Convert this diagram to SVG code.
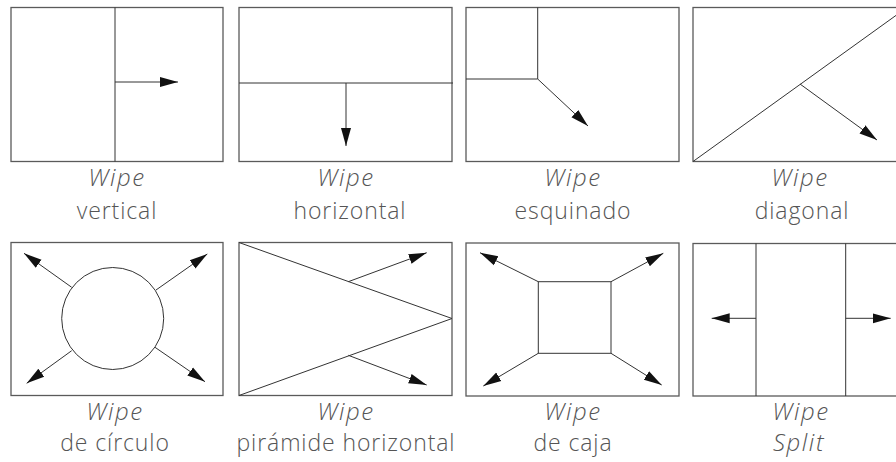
<svg xmlns="http://www.w3.org/2000/svg" width="896" height="462" viewBox="0 0 896 462">
<style>
.box{fill:none;stroke:#5a5a5a;stroke-width:1.3}
.ln{fill:none;stroke:#333;stroke-width:1}
.ar{fill:none;stroke:#333;stroke-width:1;marker-end:url(#ah)}
.t1{font-family:"Open Sans","Liberation Sans",sans-serif;font-weight:300;font-size:24px;font-style:italic;fill:#555;text-anchor:middle;letter-spacing:1.6px}
.t2{font-family:"Open Sans","Liberation Sans",sans-serif;font-weight:300;font-size:23px;fill:#555;text-anchor:middle;letter-spacing:0.9px}
</style>
<defs>
<marker id="ah" markerUnits="userSpaceOnUse" markerWidth="20" markerHeight="12" refX="18" refY="5" orient="auto" viewBox="0 0 20 10">
<path d="M0,0 L18,5 L0,10 Z" fill="#111"/>
</marker>
</defs>
<rect width="896" height="462" fill="#fff"/>
<g id="wipe-vertical">
<rect class="box" x="11" y="7.5" width="212" height="154"/>
<line class="ln" x1="115" y1="7.5" x2="115" y2="161.5"/>
<text class="t1" x="117" y="186">Wipe</text>
<text class="t2" x="117" y="219">vertical</text>
</g>
<g id="wipe-horizontal">
<rect class="box" x="239" y="7.5" width="213" height="154"/>
<line class="ln" x1="239" y1="83" x2="453" y2="83"/>
<text class="t1" x="346" y="186">Wipe</text>
<text class="t2" x="350" y="219">horizontal</text>
</g>
<g id="wipe-esquinado">
<rect class="box" x="466" y="7.5" width="213" height="154"/>
<polyline class="ln" points="537.7,7.5 537.7,79 466,79"/>
<text class="t1" x="573" y="186">Wipe</text>
<text class="t2" x="573" y="219">esquinado</text>
</g>
<g id="wipe-diagonal">
<rect class="box" x="693" y="7.5" width="214" height="154"/>
<line class="ln" x1="693" y1="161.5" x2="907" y2="7.5"/>
<text class="t1" x="800" y="186">Wipe</text>
<text class="t2" x="802" y="219">diagonal</text>
</g>
<g id="wipe-circulo">
<rect class="box" x="11" y="242.5" width="212" height="153"/>
<circle class="ln" cx="112.7" cy="318.5" r="51"/>
<text class="t1" x="115" y="420">Wipe</text>
<text class="t2" x="115" y="451">de círculo</text>
</g>
<g id="wipe-piramide">
<rect class="box" x="239" y="242.5" width="213" height="153"/>
<polyline class="ln" points="239,242.5 452,318.5 239,395.5"/>
<text class="t1" x="346" y="420">Wipe</text>
<text class="t2" x="346" y="451">pirámide horizontal</text>
</g>
<g id="wipe-caja">
<rect class="box" x="466" y="243" width="213" height="153"/>
<rect class="ln" x="538.3" y="281.7" width="72.7" height="71.6"/>
<text class="t1" x="573" y="420">Wipe</text>
<text class="t2" x="573" y="451">de caja</text>
</g>
<g id="wipe-split">
<rect class="box" x="693" y="243.5" width="214" height="152.5"/>
<line class="ln" x1="756" y1="243.5" x2="756" y2="396"/>
<line class="ln" x1="845.7" y1="243.5" x2="845.7" y2="396"/>
<text class="t1" x="801" y="420">Wipe</text>
<text class="t1" x="799" y="451">Split</text>
</g>
<g id="connectors">
<line class="ar" x1="115" y1="82" x2="178" y2="82"/>
<line class="ar" x1="346" y1="83" x2="346" y2="146"/>
<line class="ar" x1="537.7" y1="79" x2="588" y2="126"/>
<line class="ar" x1="800" y1="84" x2="877" y2="140"/>
<line class="ar" x1="71.7" y1="287.3" x2="24" y2="253.3"/>
<line class="ar" x1="156" y1="290" x2="207.3" y2="254"/>
<line class="ar" x1="71.7" y1="350.7" x2="26.7" y2="383.3"/>
<line class="ar" x1="155" y1="347.3" x2="205" y2="381.7"/>
<line class="ar" x1="348.3" y1="281.7" x2="426.7" y2="252.7"/>
<line class="ar" x1="348.3" y1="355.3" x2="426.7" y2="385"/>
<line class="ar" x1="538.3" y1="281.7" x2="480" y2="252.7"/>
<line class="ar" x1="611" y1="281.7" x2="663.3" y2="253.3"/>
<line class="ar" x1="538.3" y1="353.3" x2="483.3" y2="386"/>
<line class="ar" x1="611" y1="353.3" x2="661.7" y2="385"/>
<line class="ar" x1="756" y1="318.3" x2="711.7" y2="318.3"/>
<line class="ar" x1="845.7" y1="318.3" x2="890.7" y2="318.3"/>
</g>
</svg>
